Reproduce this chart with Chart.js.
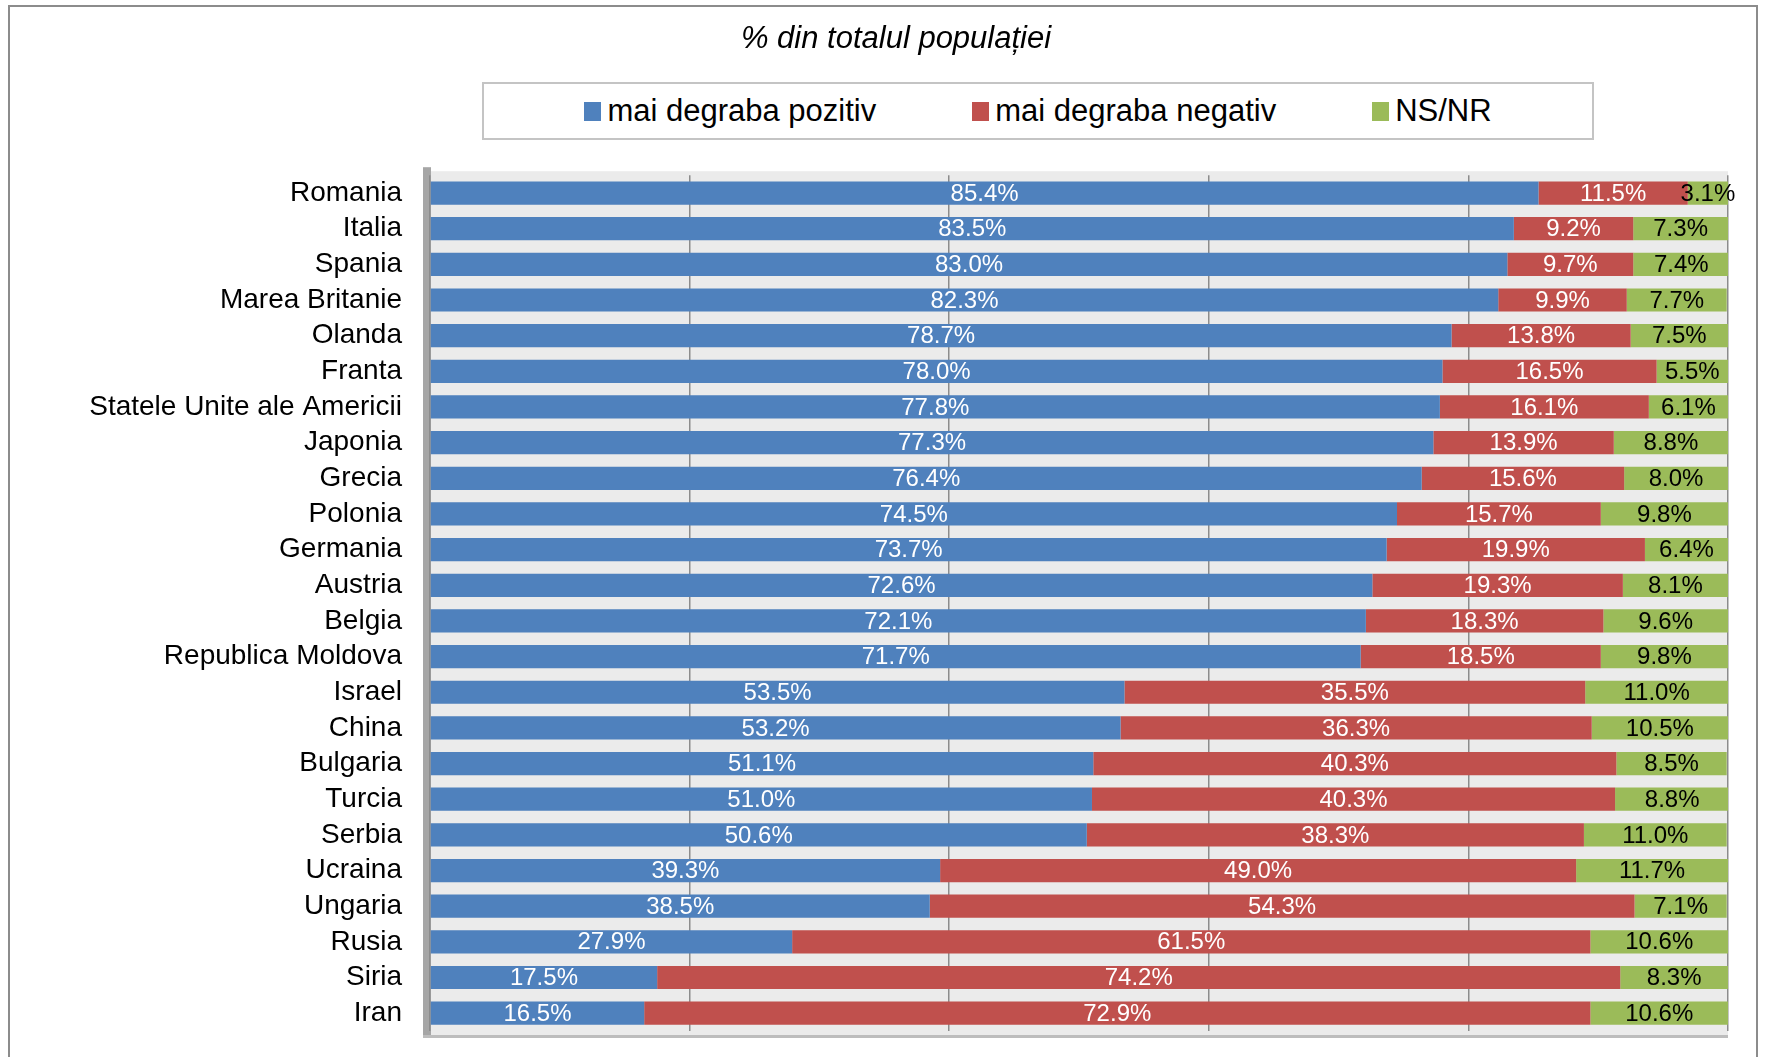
<!DOCTYPE html>
<html lang="ro">
<head>
  <meta charset="UTF-8">
  <title>% din totalul populației</title>
  <script src="https://cdn.jsdelivr.net/npm/chart.js"></script>
  <style>
    body {
      margin: 0;
      width: 1767px;
      height: 1057px;
      overflow: hidden;
      background: #fff;
      font-family: "Liberation Sans", Arial, sans-serif;
    }
    .frame {
      position: absolute;
      left: 8px;
      top: 5px;
      width: 1750px;
      height: 1080px;
      border: 2px solid #8c8c8c;
      box-sizing: border-box;
    }
    #chart-container {
      position: absolute;
      left: 0;
      top: 0;
      width: 1767px;
      height: 1057px;
    }
    #legend {
      position: absolute;
      left: 482px;
      top: 82px;
      width: 1112px;
      height: 58px;
      box-sizing: border-box;
      border: 2px solid #c4c4c4;
      background: #fff;
      display: flex;
      justify-content: center;
      align-items: center;
      gap: 96px;
      font-size: 31px;
      color: #000;
    }
    .legend-item {
      display: flex;
      align-items: center;
    }
    .legend-box {
      width: 17px;
      height: 19px;
      margin-right: 6px;
    }
  </style>
</head>
<body>
  <div class="frame"></div>
  <div id="chart-container">
    <canvas id="opinionChart"></canvas>
  </div>
  <div id="legend"></div>

  <script>
    const titleText = '% din totalul populației';
    const seriesNames = ['mai degraba pozitiv', 'mai degraba negativ', 'NS/NR'];
    const seriesColors = ['#4f81bd', '#c0504d', '#9bbb59'];
    const labelColors = ['#ffffff', '#ffffff', '#000000'];

    const countries = ['Romania', 'Italia', 'Spania', 'Marea Britanie', 'Olanda', 'Franta',
      'Statele Unite ale Americii', 'Japonia', 'Grecia', 'Polonia', 'Germania', 'Austria',
      'Belgia', 'Republica Moldova', 'Israel', 'China', 'Bulgaria', 'Turcia', 'Serbia',
      'Ucraina', 'Ungaria', 'Rusia', 'Siria', 'Iran'];
    const pozitiv = [85.4, 83.5, 83.0, 82.3, 78.7, 78.0, 77.8, 77.3, 76.4, 74.5, 73.7, 72.6,
      72.1, 71.7, 53.5, 53.2, 51.1, 51.0, 50.6, 39.3, 38.5, 27.9, 17.5, 16.5];
    const negativ = [11.5, 9.2, 9.7, 9.9, 13.8, 16.5, 16.1, 13.9, 15.6, 15.7, 19.9, 19.3,
      18.3, 18.5, 35.5, 36.3, 40.3, 40.3, 38.3, 49.0, 54.3, 61.5, 74.2, 72.9];
    const nsnr = [3.1, 7.3, 7.4, 7.7, 7.5, 5.5, 6.1, 8.8, 8.0, 9.8, 6.4, 8.1,
      9.6, 9.8, 11.0, 10.5, 8.5, 8.8, 11.0, 11.7, 7.1, 10.6, 8.3, 10.6];

    const seriesValues = [pozitiv, negativ, nsnr];
    const fontFamily = '"Liberation Sans", Arial, sans-serif';

    // legenda in HTML, cu chenar ca in original
    const legendEl = document.getElementById('legend');
    seriesNames.forEach((name, i) => {
      const item = document.createElement('div');
      item.className = 'legend-item';
      const box = document.createElement('span');
      box.className = 'legend-box';
      box.style.background = seriesColors[i];
      const text = document.createElement('span');
      text.textContent = name;
      item.appendChild(box);
      item.appendChild(text);
      legendEl.appendChild(item);
    });

    // fundal gri al zonei de grafic + peretele din stanga
    const plotBackground = {
      id: 'plotBackground',
      beforeDraw(chart) {
        const { ctx, chartArea: a } = chart;
        ctx.save();
        ctx.fillStyle = '#ebebeb';
        ctx.fillRect(a.left, a.top - 4, a.right - a.left, a.bottom - a.top + 8);
        ctx.fillStyle = '#a6a6a6';
        ctx.fillRect(a.left - 7, a.top - 8, 8, a.bottom - a.top + 12);
        ctx.fillStyle = '#bdbdbd';
        ctx.fillRect(a.left - 7, a.bottom + 4, a.right - a.left + 7, 3);
        ctx.restore();
      }
    };

    // etichete de valoare in centrul fiecarui segment
    const valueLabels = {
      id: 'valueLabels',
      afterDatasetsDraw(chart) {
        const ctx = chart.ctx;
        ctx.save();
        ctx.font = '24px ' + fontFamily;
        ctx.textAlign = 'center';
        ctx.textBaseline = 'middle';
        chart.data.datasets.forEach((ds, i) => {
          const meta = chart.getDatasetMeta(i);
          meta.data.forEach((bar, j) => {
            ctx.fillStyle = labelColors[i];
            ctx.fillText(ds.data[j].toFixed(1) + '%', (bar.x + bar.base) / 2, bar.y + 1);
          });
        });
        ctx.restore();
      }
    };

    const ctx = document.getElementById('opinionChart').getContext('2d');
    new Chart(ctx, {
      type: 'bar',
      data: {
        labels: countries,
        datasets: seriesNames.map((name, i) => ({
          label: name,
          data: seriesValues[i],
          backgroundColor: seriesColors[i],
          borderWidth: 0,
          barPercentage: 0.93,
          categoryPercentage: 0.7
        }))
      },
      options: {
        indexAxis: 'y',
        responsive: true,
        maintainAspectRatio: false,
        animation: false,
        layout: {
          padding: { left: 64, right: 39, top: 0, bottom: 26 }
        },
        plugins: {
          legend: { display: false },
          tooltip: { enabled: false },
          title: {
            display: true,
            text: titleText,
            color: '#000',
            font: { family: fontFamily, size: 31, style: 'italic', weight: 'normal' },
            padding: { top: 21, bottom: 117 }
          }
        },
        scales: {
          x: {
            stacked: true,
            min: 0,
            max: 100,
            ticks: { display: false, stepSize: 20 },
            grid: { color: '#8c8c8c', lineWidth: 1.5, drawTicks: false },
            border: { display: false }
          },
          y: {
            stacked: true,
            grid: { display: false, drawTicks: true, tickLength: 24 },
            border: { display: false },
            ticks: {
              color: '#000',
              padding: 4,
              autoSkip: false,
              font: { family: fontFamily, size: 28 }
            },
            afterFit(scale) {
              scale.width = 366;
            }
          }
        }
      },
      plugins: [plotBackground, valueLabels]
    });
  </script>
</body>
</html>
